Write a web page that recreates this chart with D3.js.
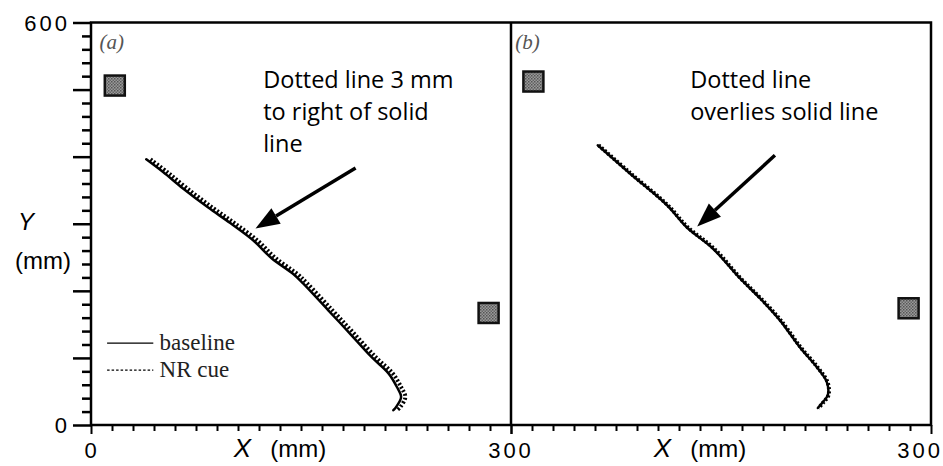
<!DOCTYPE html>
<html>
<head>
<meta charset="utf-8">
<script src="https://cdn.jsdelivr.net/npm/d3@7"></script>
<style>
body { margin: 0; background: #fff; }
.num { font-family: "Liberation Sans", Arial, sans-serif; font-size: 22px; letter-spacing: 3px; fill: #000; }
.note { font-family: "Open Sans", "Liberation Sans", sans-serif; font-size: 23.5px; fill: #000; }
.leg { font-family: "Liberation Serif", "Times New Roman", serif; font-size: 23px; fill: #222; }
.plab { font-family: "Liberation Serif", serif; font-style: italic; font-size: 21px; fill: #555; }
.ttl { font-family: "Liberation Sans", Arial, sans-serif; font-size: 24px; fill: #000; }
</style>
</head>
<body>
<script>
// tick values in mm
var xTicks = d3.range(0, 301, 15);
var yTicks = d3.range(0, 601, 20);
var yMajor = [0, 100, 200, 300, 400, 500, 600];
var yTickLabels = [0, 600];

// panel (a): solid = baseline, dotted = NR cue (3 mm to the right)
var baselineA = [[39.5,396],[51.5,377],[65.5,353],[83.5,324.5],[99.5,301],[116,275],[129,248.6],
    [144.5,225],[151.5,211],[169.5,171],[184,138.5],[200.5,101],[212.5,77],[218.5,56.6],[221.5,41.7],[218,27],[216,22]];
var nrCueA = [[42.5,396],[54.5,377],[68.5,353],[86.5,324.5],[102.5,301],[119,275],[132,248.6],
    [147.5,225],[154.5,211],[172.5,171],[187,138.5],[203.5,101],[215.5,77],[221.5,56.6],[224.5,41.7],[221,27],[218.5,22]];

// panel (b): dotted overlies solid
var baselineB = [[62,417],[85,375],[111.5,327.6],[125.5,294.8],[144,263.5],[163.5,218.8],[177.8,189],[192,156.3],
    [206.3,116.1],[218.4,86.3],[225.6,64],[226.3,44.7],[222.8,34.2],[219.2,25.3]];
var nrCueB = [[62.6,417],[85.5,375],[112,327.6],[126.2,294.8],[144.8,263.5],[164,218.8],[178.3,189],[192.6,156.3],
    [206.8,116.1],[218.9,86.3],[226.1,64],[226.8,44.7],[223.3,34.2],[219.6,25.3]];

// landmark squares [x, y] mm
var squaresA = [[17, 506], [284, 167]];
var squaresB = [[16, 512], [284, 174]];

// arrows [from, to] mm
var arrowA = [[189, 383], [117.5, 293]];
var arrowB = [[188.5, 402], [133, 296]];

var notesA = ["Dotted line 3 mm", "to right of solid", "line"];
var notesB = ["Dotted line", "overlies solid line"];
var legendLabels = ["baseline", "NR cue"];

var width = 943, height = 466;
var plotLeft = 91, plotRight = 931, plotTop = 22.5, plotBottom = 425;
var plotMid = (plotLeft + plotRight) / 2;

var svg = d3.select("body").append("svg")
    .attr("width", width)
    .attr("height", height);

var defs = svg.append("defs");
var pat = defs.append("pattern")
    .attr("id", "stip")
    .attr("width", 3).attr("height", 3)
    .attr("patternUnits", "userSpaceOnUse");
pat.append("rect").attr("width", 3).attr("height", 3).attr("fill", "#9a9a9a");
pat.append("rect").attr("width", 1.5).attr("height", 1.5).attr("fill", "#555");
pat.append("rect").attr("x", 1.5).attr("y", 1.5).attr("width", 1.5).attr("height", 1.5).attr("fill", "#666");

var xA = d3.scaleLinear().domain([0, 300]).range([plotLeft, plotMid]);
var xB = d3.scaleLinear().domain([0, 300]).range([plotMid, plotRight]);
var y = d3.scaleLinear().domain([0, 600]).range([plotBottom, plotTop]);

// x axes
[xA, xB].forEach(function (x) {
    var g = svg.append("g")
        .attr("transform", "translate(0," + plotBottom + ")")
        .call(d3.axisBottom(x).tickValues(xTicks).tickSize(6).tickFormat(""));
    g.select(".domain").remove();
    g.selectAll(".tick line")
        .attr("stroke-width", 2)
        .attr("y2", function (d) { return (d === 0 || d === 300) ? 9 : 6; });
});

// y axis
var gy = svg.append("g")
    .attr("transform", "translate(" + plotLeft + ",0)")
    .call(d3.axisLeft(y).tickValues(yTicks).tickSize(9).tickFormat(""));
gy.select(".domain").remove();
gy.selectAll(".tick line")
    .attr("stroke-width", 2.5)
    .attr("x2", function (d) { return yMajor.indexOf(d) >= 0 ? -18 : -9; });

// frame
svg.append("rect")
    .attr("x", plotLeft).attr("y", plotTop)
    .attr("width", plotRight - plotLeft).attr("height", plotBottom - plotTop)
    .attr("fill", "none").attr("stroke", "#000").attr("stroke-width", 2.5);
svg.append("line")
    .attr("x1", plotMid).attr("x2", plotMid).attr("y1", plotTop).attr("y2", plotBottom)
    .attr("stroke", "#000").attr("stroke-width", 2.5);

// tick labels
svg.selectAll(".ylab").data(yTickLabels).enter().append("text")
    .attr("class", "num")
    .attr("x", plotLeft - 21)
    .attr("y", function (d) { return y(d) + 8; })
    .attr("text-anchor", "end")
    .text(function (d) { return d; });
svg.append("text").attr("class", "num").attr("x", xA(0) + 1).attr("y", 458).attr("text-anchor", "middle").text("0");
svg.append("text").attr("class", "num").attr("x", xA(300)).attr("y", 458).attr("text-anchor", "middle").text("300");
svg.append("text").attr("class", "num").attr("x", xB(300) + 12).attr("y", 458).attr("text-anchor", "end").text("300");

// axis titles
[xA, xB].forEach(function (x) {
    var t = svg.append("text").attr("class", "ttl").attr("y", 457);
    t.append("tspan").attr("x", x(102)).attr("font-style", "italic").attr("font-size", 26).text("X");
    t.append("tspan").attr("x", x(128)).text("(mm)");
});
svg.append("text").attr("class", "ttl").attr("x", 26).attr("y", y(290)).attr("text-anchor", "middle")
    .attr("font-style", "italic").attr("font-size", 26).text("Y");
svg.append("text").attr("class", "ttl").attr("x", 43).attr("y", y(233)).attr("text-anchor", "middle").text("(mm)");

// panel labels
svg.append("text").attr("class", "plab").attr("x", xA(6)).attr("y", y(561)).text("(a)");
svg.append("text").attr("class", "plab").attr("x", xB(3)).attr("y", y(561)).text("(b)");

// squares
function drawSquares(x, pts) {
    svg.selectAll(null).data(pts).enter().append("rect")
        .attr("x", function (d) { return x(d[0]) - 10; })
        .attr("y", function (d) { return y(d[1]) - 10; })
        .attr("width", 20).attr("height", 20)
        .attr("fill", "url(#stip)")
        .attr("stroke", "#111").attr("stroke-width", 2.5);
}
drawSquares(xA, squaresA);
drawSquares(xB, squaresB);

// trajectories
function drawPaths(x, base, cue) {
    var line = d3.line()
        .x(function (d) { return x(d[0]); })
        .y(function (d) { return y(d[1]); })
        .curve(d3.curveCatmullRom);
    svg.append("path").datum(base)
        .attr("d", line).attr("fill", "none")
        .attr("stroke", "#000").attr("stroke-width", 2.5).attr("stroke-linecap", "round");
    svg.append("path").datum(cue)
        .attr("d", line).attr("fill", "none")
        .attr("stroke", "#000").attr("stroke-width", 4).attr("stroke-dasharray", "2,2");
}
drawPaths(xA, baselineA, nrCueA);
drawPaths(xB, baselineB, nrCueB);

// arrows
function drawArrow(x, a) {
    var x1 = x(a[0][0]), y1 = y(a[0][1]), x2 = x(a[1][0]), y2 = y(a[1][1]);
    var ang = Math.atan2(y2 - y1, x2 - x1);
    var hl = 24, hw = 9;
    var bx = x2 - hl * Math.cos(ang), by = y2 - hl * Math.sin(ang);
    svg.append("line")
        .attr("x1", x1).attr("y1", y1).attr("x2", bx).attr("y2", by)
        .attr("stroke", "#000").attr("stroke-width", 3.5);
    svg.append("path")
        .attr("d", "M" + x2 + "," + y2 +
            "L" + (bx + hw * Math.sin(ang)) + "," + (by - hw * Math.cos(ang)) +
            "L" + (bx - hw * Math.sin(ang)) + "," + (by + hw * Math.cos(ang)) + "Z")
        .attr("fill", "#000");
}
drawArrow(xA, arrowA);
drawArrow(xB, arrowB);

// annotation text
svg.selectAll(null).data(notesA).enter().append("text")
    .attr("class", "note")
    .attr("x", xA(123))
    .attr("y", function (d, i) { return 88 + i * 32; })
    .text(function (d) { return d; });
svg.selectAll(null).data(notesB).enter().append("text")
    .attr("class", "note")
    .attr("x", xB(128))
    .attr("y", function (d, i) { return 88 + i * 32; })
    .text(function (d) { return d; });

// legend
var leg = svg.append("g");
legendLabels.forEach(function (lab, i) {
    var ly = y(122) + i * 27;
    leg.append("line")
        .attr("x1", xA(11.5)).attr("x2", xA(44.5))
        .attr("y1", ly).attr("y2", ly)
        .attr("stroke", "#000").attr("stroke-width", 1.2)
        .attr("stroke-dasharray", i === 1 ? "2.5,2" : null);
    leg.append("text").attr("class", "leg")
        .attr("x", xA(49)).attr("y", ly + 7)
        .text(lab);
});
</script>
</body>
</html>
